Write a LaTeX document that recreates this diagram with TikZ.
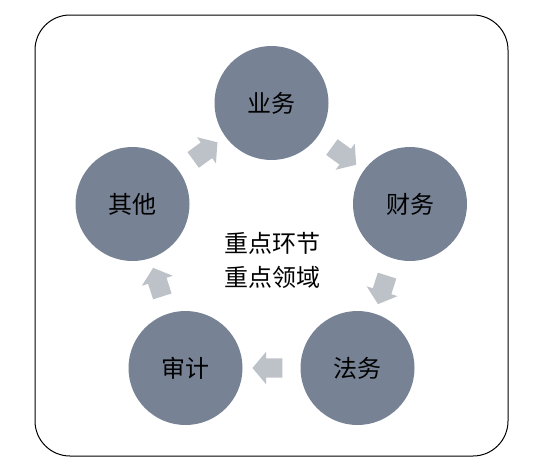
\documentclass[tikz,border=0pt]{standalone}
\usepackage{fontspec}
\newfontfamily\cjk{Noto Sans CJK SC}
\usepackage{tikz}
\usetikzlibrary{shapes.arrows}
\definecolor{ringgray}{HTML}{778395}
\definecolor{arrowgray}{HTML}{BDC2C9}
\newcommand{\bigcjk}{\cjk\fontsize{24}{34}\selectfont}

\begin{document}
\begin{tikzpicture}[x = 1pt, y = -1pt,
  ring/.style = {circle, fill = ringgray, minimum size = 114pt, inner sep = 0pt, font = \bigcjk},
  flow/.style = {single arrow, fill = arrowgray, minimum height = 30pt, inner xsep = 0pt, inner ysep = 9.5pt,
    single arrow head extend = 6.5pt, single arrow tip angle = 100, sloped, allow upside down}]
\useasboundingbox (0,0) rectangle (536,474);
\draw[line width = 1pt, rounded corners = 35pt] (35,15) rectangle (508,456);

\node[ring] (yewu)   at (271.5,103) {业务};
\node[ring] (caiwu)  at (410,204)   {财务};
\node[ring] (fawu)   at (357.5,368) {法务};
\node[ring] (shenji) at (185.5,368) {审计};
\node[ring] (qita)   at (132.5,204) {其他};

\node[align = center, font = \bigcjk] (focus) at (272,260) {重点环节\\重点领域};

% arrows round the ring
\path (yewu)   -- node[flow] (a1) {} (caiwu);
\path (caiwu)  -- node[flow] (a2) {} (fawu);
\path (fawu)   -- node[flow] (a3) {} (shenji);
\path (shenji) -- node[flow] (a4) {} (qita);
\path (qita)   -- node[flow] (a5) {} (yewu);
\end{tikzpicture}
\end{document}
